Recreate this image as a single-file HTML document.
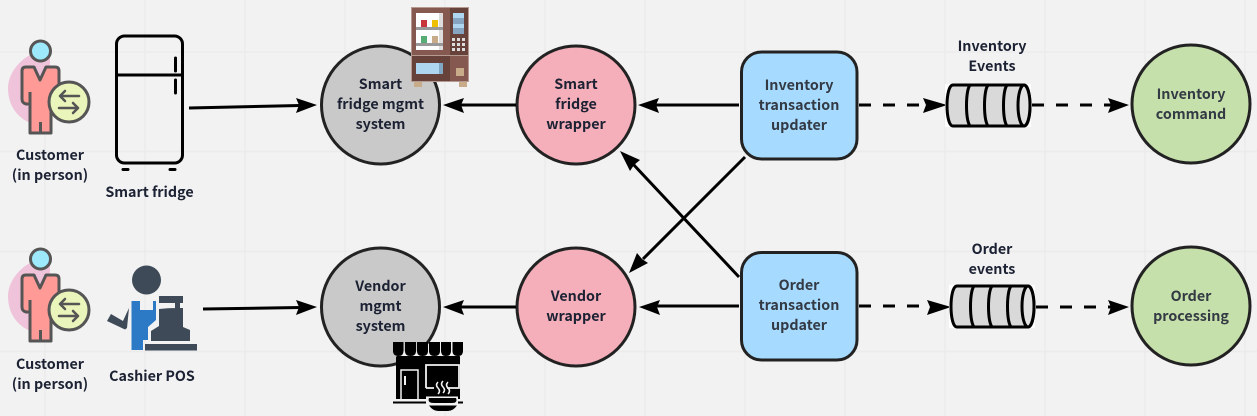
<!DOCTYPE html>
<html><head><meta charset="utf-8"><style>
html,body{margin:0;padding:0;background:#f2f2f2}
svg{display:block}
text{font-family:"Noto Sans CJK JP","Liberation Sans",sans-serif;font-weight:700;font-size:14.300px;text-anchor:middle;fill:#1c2233}
.b text,text.b{fill:#333a44}
</style></head><body>
<svg xmlns="http://www.w3.org/2000/svg" width="1257" height="416" viewBox="0 0 1257 416">
<defs>
<g id="person">
<path d="M50 49 C30 49 8 68 8 88 C8 108 20 122 40 126 L50 126Z" fill="#efc3da"/>
<path d="M26 67 H34 L40 80 L46 67 H55 Q59 67 59 71 V100 H51 V133 H30 V104 L26 104 Q22 103 22 99 V71 Q22 67 26 67Z" fill="#ff9a96" stroke="#555" stroke-width="3" stroke-linejoin="round"/>
<path d="M30 92 V104 M40.500 122 V133" stroke="#555" stroke-width="3" fill="none"/>
<circle cx="40.500" cy="51" r="10" fill="#9ee8fb" stroke="#555" stroke-width="3"/>
<circle cx="69" cy="102" r="20" fill="#e9f5ba" stroke="#555" stroke-width="3"/>
<path d="M79 96 H60 M65 91 L60 96 L65 101 M59 108 H78 M73 103 L78 108 L73 113" fill="none" stroke="#555" stroke-width="2.500" stroke-linecap="round" stroke-linejoin="round"/>
</g>
<g id="cyl">
<rect x="945" y="84" width="86" height="43" fill="#fff"/>
<path d="M953 85 H1024 C1032 85 1032 126 1024 126 H953 C945 126 945 85 953 85Z" fill="#d9d9d9" stroke="#000" stroke-width="3"/>
<path d="M971 85 C965 85 965 126 971 126 M989 85 C983 85 983 126 989 126 M1008 85 C1002 85 1002 126 1008 126" fill="none" stroke="#000" stroke-width="3"/>
<ellipse cx="1024" cy="105.500" rx="6" ry="20.500" fill="#e2e2e2" stroke="#000" stroke-width="3"/>
</g>
</defs>
<rect width="1257" height="416" fill="#f2f2f2"/>
<path d="M45 0V416M145 0V416M245 0V416M345 0V416M445 0V416M545 0V416M645 0V416M745 0V416M845 0V416M945 0V416M1045 0V416M1145 0V416M1245 0V416M0 52H1257M0 151.500H1257M0 251.500H1257M0 351.500H1257" stroke="#ebebeb" stroke-width="1.500" fill="none"/>

<use href="#person"/>
<use href="#person" y="208"/>

<!-- fridge -->
<rect x="116.500" y="36" width="66" height="127" rx="8" fill="none" stroke="#000" stroke-width="3"/>
<path d="M116 75H183" stroke="#000" stroke-width="3"/>
<path d="M175.500 58V71M175.500 80V93" stroke="#000" stroke-width="3" stroke-linecap="round"/>
<path d="M123 169.500H128M170 169.500H175" stroke="#000" stroke-width="3" stroke-linecap="round"/>

<!-- cashier -->
<circle cx="146.500" cy="280" r="14.500" fill="#3e4a58"/>
<path d="M131.500 301H140V310H153V301H156V320L148 327V340H143V350H131.500Z" fill="#2c79c6"/>
<path d="M129 308 L127 328 L125 329.500 L107 321 L111 314 L123 321Z" fill="#3e4a58"/>
<path d="M159 296H183V303H180V308.500H175V303H159Z M159 309 Q168 308 175 308 H183 V327 L190 330 V341 H151 V331 L159 326Z" fill="#3e4a58"/>
<rect x="145" y="344" width="52" height="6.500" fill="#3e4a58"/>

<!-- circles -->
<g stroke="#222" stroke-width="3">
<circle cx="380.500" cy="105" r="59" fill="#c9c9c9"/>
<circle cx="380.500" cy="307" r="59" fill="#c9c9c9"/>
<circle cx="576" cy="105" r="59" fill="#f5afba"/>
<circle cx="576" cy="307" r="59" fill="#f5afba"/>
<circle cx="1191" cy="104" r="59" fill="#c6e0ab"/>
<circle cx="1191" cy="306" r="59" fill="#c6e0ab"/>
<rect x="741.500" y="52" width="115.500" height="107" rx="20" fill="#a6dbff"/>
<rect x="741.500" y="252.500" width="115.500" height="107.500" rx="20" fill="#a6dbff"/>
</g>

<!-- vending -->
<g>
<rect x="414" y="80" width="8" height="7" fill="#c8ab88"/><rect x="459" y="80" width="8" height="7" fill="#c8ab88"/>
<rect x="411" y="7" width="58" height="75" fill="#b49a90"/>
<rect x="412" y="8" width="38" height="47" fill="#85594f"/>
<rect x="450" y="8" width="18" height="47" fill="#66423a"/>
<rect x="412" y="56" width="38" height="25" fill="#66423a"/>
<rect x="450" y="56" width="18" height="25" fill="#85594f"/>
<rect x="416" y="13" width="27" height="37" fill="#fff"/><rect x="439" y="13" width="4" height="37" fill="#ddd"/>
<rect x="416" y="27" width="27" height="3" fill="#999"/><rect x="416" y="43" width="27" height="3" fill="#999"/>
<rect x="421" y="20" width="6" height="7" fill="#c8363c"/><rect x="432" y="20" width="6" height="7" fill="#efc000"/>
<rect x="421" y="36" width="6" height="7" fill="#58ad74"/><rect x="432" y="36" width="6" height="7" fill="#c8ab88"/>
<rect x="416" y="63" width="27" height="11" fill="#aed6f0"/><rect x="439" y="63" width="4" height="11" fill="#7fa8c4"/>
<rect x="453" y="13" width="11" height="21" fill="#aed6f0"/><rect x="453" y="18" width="11" height="6" fill="#85a5c0"/><rect x="453" y="28" width="11" height="6" fill="#85a5c0"/>
<path d="M452 38h3v3h-3zM457 38h3v3h-3zM462 38h3v3h-3zM452 43h3v3h-3zM457 43h3v3h-3zM462 43h3v3h-3zM452 48h3v3h-3zM457 48h3v3h-3zM462 48h3v3h-3z" fill="#ddd"/>
<rect x="456" y="68" width="8" height="8" fill="#c8ab88"/>
</g>

<!-- shop -->
<g>
<rect x="396" y="356" width="64" height="43" fill="#000"/>
<path d="M396 355 Q402 361 408 355 Q414 361 420 355 Q426 361 432 355 Q438 361 444 355 Q450 361 460 355 V352 H396Z" fill="#f2f2f2" stroke="#f2f2f2" stroke-width="1.500"/>
<path d="M393 342H403.500V351Q403.500 356 398.500 356 Q393 356 393 351Z M405 342H416V351Q416 356 410.500 356 Q405 356 405 351Z M417 342H428V351Q428 356 422.500 356 Q417 356 417 351Z M429 342H440V351Q440 356 434.500 356 Q429 356 429 351Z M441 342H451V351Q451 356 446 356 Q441 356 441 351Z M452.500 342H463V351Q463 356 458 356 Q452.500 356 452.500 351Z" fill="#000"/>
<path d="M397 360 Q403 360 408 357 Q414 361 420 357 Q426 361 432 357 Q438 361 444 357 Q450 361 459 360 V356 H397Z" fill="#000"/>
<rect x="401" y="370" width="17" height="30" fill="none" stroke="#f2f2f2" stroke-width="1.500"/>
<rect x="404" y="376" width="2" height="9" fill="#f2f2f2"/>
<path d="M426 388V365H459V388H447M426 388H434" fill="none" stroke="#f2f2f2" stroke-width="1.800"/>
<path d="M438 382q-3 3 0 6t0 6M443 381q-3 3 0 6t0 6M448 382q-3 3 0 6t0 6" fill="none" stroke="#f2f2f2" stroke-width="1.500"/>
<path d="M393 402.500H463" stroke="#000" stroke-width="2"/>
<path d="M393 400.500H427M449 400.500H463" stroke="#f2f2f2" stroke-width="1"/>
<path d="M426 396.500H458 V404H426Z" fill="#f2f2f2"/>
<path d="M429 398H456 Q458 403 452 403 H434 Q427 403 429 398Z M429 405.500H457 Q453 411 448 411 H438 Q433 411 429 405.500Z" fill="#000"/>
</g>

<!-- solid connectors -->
<g stroke="#000" stroke-width="3" fill="none">
<path d="M189 108L300 105.500M203 309L300 307.500M516 105H460M516 307H460M739 105H655M739 306H655M745 157L643 259M739 277L633 164"/>
</g>
<g fill="#000">
<path d="M317 105 L296 98 L299 105 L296 113Z"/>
<path d="M317 307 L296 300 L299 307 L296 315Z"/>
<path d="M443 105 L464 98 L461 105 L464 113Z"/>
<path d="M443 307 L464 300 L461 307 L464 315Z"/>
<path d="M638 105 L659 98 L656 105 L659 113Z"/>
<path d="M639 307 L660 300 L657 307 L660 315Z"/>
<path d="M629 273 L637 253 L642 259 L648 263Z"/>
<path d="M620 151 L640 160 L634 165 L630 171Z"/>
<path d="M1129 105 L1108 98 L1111 105 L1108 113Z"/>
<path d="M1129 307 L1108 300 L1111 307 L1108 315Z"/>
<path d="M947 105 L923 98 L926 105 L923 113Z"/>
<path d="M951 307 L927 300 L930 307 L927 315Z"/>
</g>
<g stroke="#000" stroke-width="3" fill="none" stroke-dasharray="12 12">
<path d="M859 105H925M1032 105H1112M859 306H929M1036 307H1112"/>
</g>

<use href="#cyl"/>
<use href="#cyl" x="4" y="201"/>

<!-- labels -->
<text x="50" y="160">Customer</text><text x="50" y="180">(in person)</text>
<text x="50" y="369">Customer</text><text x="50" y="389">(in person)</text>
<text x="149.500" y="197">Smart fridge</text>
<text x="152" y="381">Cashier POS</text>
<text x="380.500" y="89">Smart</text><text x="380.500" y="109">fridge mgmt</text><text x="380.500" y="129">system</text>
<text x="380.500" y="291">Vendor</text><text x="380.500" y="311">mgmt</text><text x="380.500" y="331">system</text>
<text x="576" y="89">Smart</text><text x="576" y="109">fridge</text><text x="576" y="129">wrapper</text>
<text x="576" y="301">Vendor</text><text x="576" y="321">wrapper</text>
<g class="b">
<text x="799" y="90">Inventory</text><text x="799" y="110">transaction</text><text x="799" y="130">updater</text>
<text x="799" y="290">Order</text><text x="799" y="310">transaction</text><text x="799" y="330">updater</text>
<text x="1191" y="99">Inventory</text><text x="1191" y="119">command</text>
<text x="1191" y="301">Order</text><text x="1191" y="321">processing</text>
</g>
<text x="992" y="51">Inventory</text><text x="992" y="71">Events</text>
<text x="992" y="254">Order</text><text x="992" y="274">events</text>
</svg>
</body></html>
